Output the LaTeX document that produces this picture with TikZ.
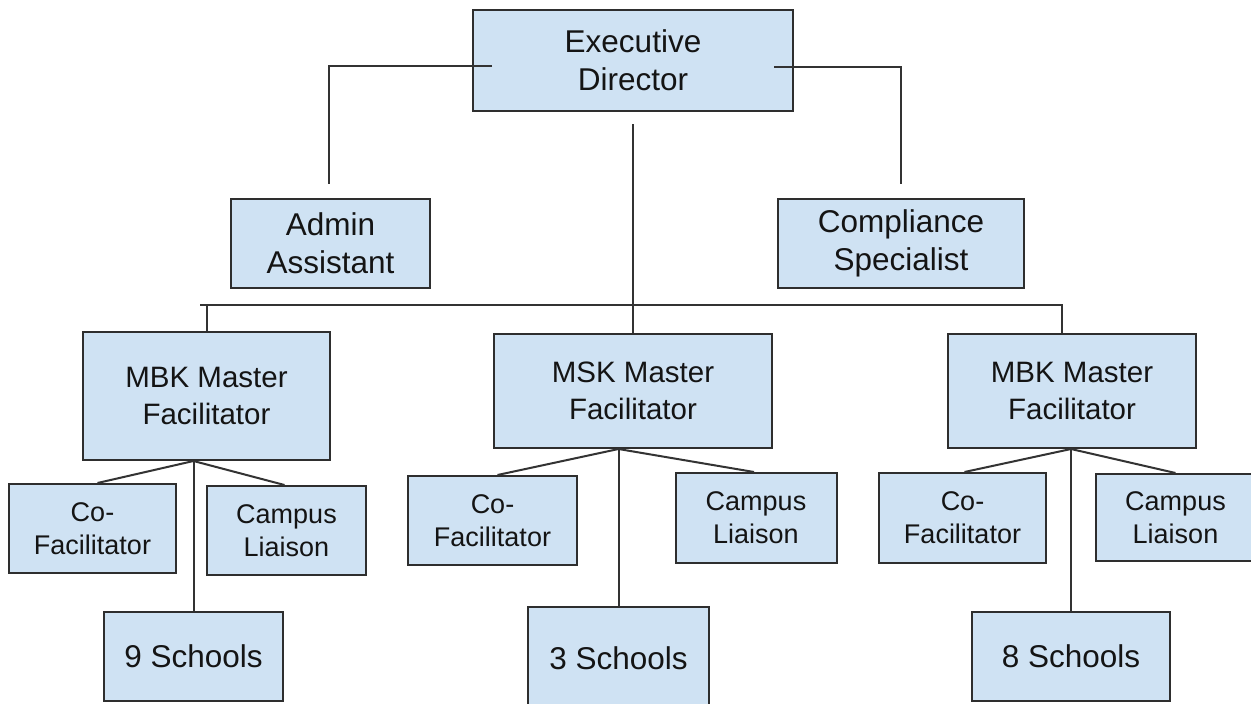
\documentclass[tikz,border=0pt]{standalone}
\usepackage{fontspec}
\setmainfont{Liberation Sans}
\definecolor{boxfill}{HTML}{CFE2F3}
\definecolor{boxline}{HTML}{2E2E2E}
\definecolor{conline}{HTML}{333333}
\tikzset{
  orgbox/.style={draw=boxline, fill=boxfill, line width=2pt, inner sep=0pt,
    align=center, text=black!92},
  big/.style={orgbox, font=\fontsize{31.5}{38}\selectfont},
  mid/.style={orgbox, font=\fontsize{29.5}{37}\selectfont},
  small/.style={orgbox, font=\fontsize{27}{33}\selectfont},
  conn/.style={draw=conline, line width=2pt},
}
\begin{document}
\begin{tikzpicture}[x=1pt,y=-1pt]
\path[use as bounding box, clip] (0,0) rectangle (1251,704);
\fill[white] (0,0) rectangle (1251,704);

% boxes
\node[big, minimum width=320pt, minimum height=101pt] (exec) at (633,60.5) {Executive\\Director};
\node[big, minimum width=199pt, minimum height=89pt] (admin) at (330.5,243.5) {Admin\\Assistant};
\node[big, minimum width=246pt, minimum height=89pt] (comp) at (901,243.5) {Compliance\\Specialist};

\node[mid, minimum width=247pt, minimum height=128pt] (mbka) at (206.5,396) {MBK Master\\Facilitator};
\node[mid, minimum width=278pt, minimum height=114pt] (msk) at (633,391) {MSK Master\\Facilitator};
\node[mid, minimum width=248pt, minimum height=114pt] (mbkb) at (1072,391) {MBK Master\\Facilitator};

\node[small, minimum width=167pt, minimum height=89pt] (cofa) at (92.5,528.5) {Co-\\Facilitator};
\node[small, minimum width=159pt, minimum height=89pt] (campa) at (286.5,530.5) {Campus\\Liaison};
\node[big, minimum width=179pt, minimum height=89pt] (nine) at (193.5,656.5) {9 Schools};

\node[small, minimum width=169pt, minimum height=89pt] (cofb) at (492.5,520.5) {Co-\\Facilitator};
\node[small, minimum width=161pt, minimum height=90pt] (campb) at (756,518) {Campus\\Liaison};
\node[big, minimum width=181pt, minimum height=102pt] (three) at (618.5,658) {3 Schools};

\node[small, minimum width=167pt, minimum height=90pt] (cofc) at (962.5,518) {Co-\\Facilitator};
\node[small, minimum width=159pt, minimum height=87pt] (campc) at (1175.5,517.5) {Campus\\Liaison};
\node[big, minimum width=198pt, minimum height=89pt] (eight) at (1071,656.5) {8 Schools};

% top-level connectors
\draw[conn] ([xshift=20pt,yshift=-5.5pt]exec.west) -| ([xshift=-2pt,yshift=14pt]admin.north);
\draw[conn] ([xshift=-20pt,yshift=-6pt]exec.east) -| ([yshift=14pt]comp.north);
\draw[conn] ([yshift=-12pt]exec.south) -- (msk.north);

% bus to master facilitators
\coordinate (busL) at (200,304.5);
\draw[conn] (busL) -- ([xshift=-10pt]mbkb.north |- busL) -- ([xshift=-10pt]mbkb.north);
\draw[conn] (mbka.north |- busL) -- (mbka.north);

% forks
\coordinate (fa) at (nine.north |- mbka.south);
\draw[conn] (fa) -- ([xshift=5pt]cofa.north);
\draw[conn] (fa) -- ([xshift=-2pt]campa.north);
\draw[conn] (fa) -- (nine.north);

\coordinate (fb) at (three.north |- msk.south);
\draw[conn] (fb) -- ([xshift=5pt]cofb.north);
\draw[conn] (fb) -- ([xshift=-2pt]campb.north);
\draw[conn] (fb) -- (three.north);

\coordinate (fc) at (eight.north |- mbkb.south);
\draw[conn] (fc) -- ([xshift=2pt]cofc.north);
\draw[conn] (fc) -- (campc.north);
\draw[conn] (fc) -- (eight.north);
\end{tikzpicture}
\end{document}
